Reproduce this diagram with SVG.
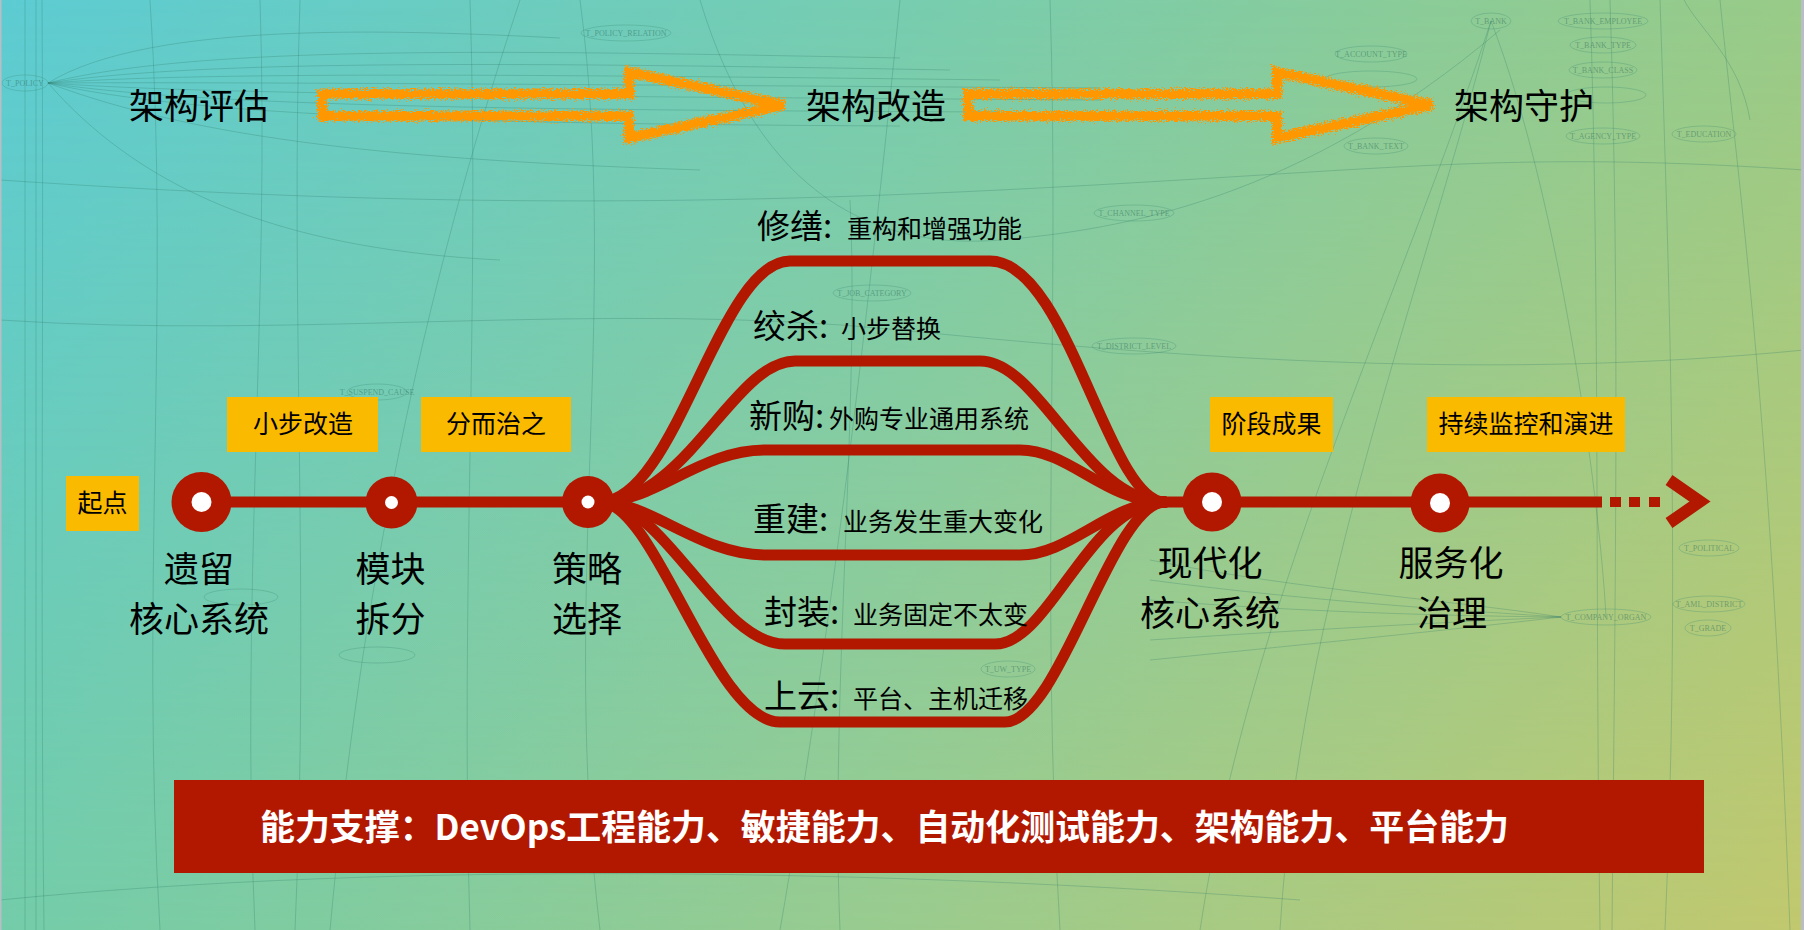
<svg xmlns="http://www.w3.org/2000/svg" width="1804" height="930" viewBox="0 0 1804 930">
<defs>
  <linearGradient id="gTop" x1="0" y1="0" x2="1804" y2="0" gradientUnits="userSpaceOnUse">
    <stop offset="0" stop-color="#5DCCD3"/>
    <stop offset="0.5" stop-color="#77CDB0"/>
    <stop offset="1" stop-color="#99CB88"/>
  </linearGradient>
  <linearGradient id="gBot" x1="0" y1="0" x2="1804" y2="0" gradientUnits="userSpaceOnUse">
    <stop offset="0" stop-color="#73CCA9"/>
    <stop offset="0.5" stop-color="#9ACB8E"/>
    <stop offset="1" stop-color="#C1C86E"/>
  </linearGradient>
  <linearGradient id="gMask" x1="0" y1="0" x2="0" y2="930" gradientUnits="userSpaceOnUse">
    <stop offset="0" stop-color="#000"/>
    <stop offset="1" stop-color="#fff"/>
  </linearGradient>
  <mask id="vmask" maskUnits="userSpaceOnUse" x="0" y="0" width="1804" height="930">
    <rect x="0" y="0" width="1804" height="930" fill="url(#gMask)"/>
  </mask>
  <filter id="rough" x="-5%" y="-40%" width="110%" height="180%">
    <feTurbulence type="fractalNoise" baseFrequency="0.7" numOctaves="2" seed="4" result="n"/>
    <feDisplacementMap in="SourceGraphic" in2="n" scale="11" xChannelSelector="R" yChannelSelector="G"/>
  </filter>
  <style>
    .bgl{fill:none;stroke:#2E7A68;stroke-opacity:0.28;stroke-width:1}
    .bgn{fill:none;stroke:#3C8A74;stroke-opacity:0.3;stroke-width:1}
    .bgt{font-family:"Liberation Serif",serif;font-size:8px;fill:#2E6E5C;fill-opacity:0.5;text-anchor:middle}
    .title{font-family:"Noto Sans CJK SC","Noto Sans",sans-serif;font-size:35px;fill:#000}
    .lbl{font-family:"Noto Sans CJK SC","Noto Sans",sans-serif;font-size:35px;fill:#000;text-anchor:middle}
    .tag{font-family:"Noto Sans CJK SC","Noto Sans",sans-serif;font-size:25px;fill:#000;text-anchor:middle}
    .big{font-family:"Noto Sans CJK SC","Noto Sans",sans-serif;font-size:33px;fill:#000}
    .small{font-size:25px}
    .box{fill:#FABA00}
    .red{fill:#B21800}
    .hole{fill:#fff}
    .path{fill:none;stroke:#B21800;stroke-width:11;stroke-linecap:round}
    .orange{fill:none;stroke:#FF9800;stroke-width:10;stroke-linejoin:miter}
  </style>
</defs>

<!-- background -->
<rect x="0" y="0" width="1804" height="930" fill="url(#gTop)"/>
<rect x="0" y="0" width="1804" height="930" fill="url(#gBot)" mask="url(#vmask)"/>

<g id="background-graph">
  <path class="bgl" d="M25,0 V930"/>
  <path class="bgl" d="M36,0 V930" stroke-width="2"/>
  <path class="bgl" d="M42,0 C44,300 40,600 44,930"/>
  <path class="bgl" d="M48,83 C150,20 400,30 560,38"/>
  <path class="bgl" d="M48,83 C200,45 500,50 900,58"/>
  <path class="bgl" d="M48,83 C200,60 500,62 950,70"/>
  <path class="bgl" d="M48,83 C200,72 500,74 1000,80"/>
  <path class="bgl" d="M48,83 C200,82 500,84 1100,88"/>
  <path class="bgl" d="M48,83 C200,94 500,96 1100,100"/>
  <path class="bgl" d="M48,83 C200,106 500,110 1000,112"/>
  <path class="bgl" d="M48,83 C200,118 500,124 900,126"/>
  <path class="bgl" d="M48,83 C200,140 400,160 700,170"/>
  <path class="bgl" d="M48,83 C150,200 300,250 500,260"/>
  <path class="bgl" d="M150,0 C170,300 140,600 160,930"/>
  <path class="bgl" d="M260,0 C270,300 240,600 255,930"/>
  <path class="bgl" d="M300,0 C290,300 310,600 295,930"/>
  <path class="bgl" d="M330,930 C360,600 420,300 520,0"/>
  <path class="bgl" d="M470,930 C460,600 480,300 470,0"/>
  <path class="bgl" d="M580,0 C620,300 560,600 600,930"/>
  <path class="bgl" d="M700,0 C760,200 880,250 1000,240 S1300,200 1500,30"/>
  <path class="bgl" d="M780,930 C820,700 860,400 900,0"/>
  <path class="bgl" d="M840,930 C830,700 860,400 850,200"/>
  <path class="bgl" d="M1050,0 C1060,300 1040,600 1060,930"/>
  <path class="bgl" d="M1200,930 C1250,600 1400,300 1491,21"/>
  <path class="bgl" d="M1280,930 C1300,600 1420,300 1491,21"/>
  <path class="bgl" d="M1491,21 C1560,200 1600,500 1606,617"/>
  <path class="bgl" d="M1590,0 C1600,300 1595,600 1600,930" stroke-width="2"/>
  <path class="bgl" d="M1610,0 C1620,300 1615,600 1612,930"/>
  <path class="bgl" d="M1660,0 C1670,300 1680,600 1665,930"/>
  <path class="bgl" d="M1720,0 C1740,200 1770,400 1790,930"/>
  <path class="bgl" d="M1684,0 C1700,30 1740,60 1750,120"/>
  <path class="bgl" d="M1150,560 C1300,590 1450,600 1561,617"/>
  <path class="bgl" d="M1150,580 C1300,600 1450,610 1561,617"/>
  <path class="bgl" d="M1150,600 C1300,612 1450,616 1561,617"/>
  <path class="bgl" d="M1150,640 C1300,630 1450,622 1561,617"/>
  <path class="bgl" d="M1150,660 C1300,645 1450,630 1561,617"/>
  <path class="bgl" d="M0,900 C400,860 900,870 1300,900"/>
  <path class="bgl" d="M0,180 C300,200 600,210 1000,190 S1500,150 1804,170"/>
  <path class="bgl" d="M0,320 C300,340 600,300 900,330 S1500,380 1804,350"/>

  <ellipse class="bgn" cx="25" cy="83" rx="23" ry="8"/><text class="bgt" x="25" y="86">T_POLICY</text>
  <ellipse class="bgn" cx="626" cy="33" rx="45" ry="8"/><text class="bgt" x="626" y="36">T_POLICY_RELATION</text>
  <ellipse class="bgn" cx="1491" cy="21" rx="20" ry="8"/><text class="bgt" x="1491" y="24">T_BANK</text>
  <ellipse class="bgn" cx="1603" cy="21" rx="45" ry="8"/><text class="bgt" x="1603" y="24">T_BANK_EMPLOYEE</text>
  <ellipse class="bgn" cx="1603" cy="45" rx="33" ry="8"/><text class="bgt" x="1603" y="48">T_BANK_TYPE</text>
  <ellipse class="bgn" cx="1603" cy="70" rx="34" ry="8"/><text class="bgt" x="1603" y="73">T_BANK_CLASS</text>
  <ellipse class="bgn" cx="1606" cy="95" rx="40" ry="8"/>
  <ellipse class="bgn" cx="1603" cy="136" rx="37" ry="8"/><text class="bgt" x="1603" y="139">T_AGENCY_TYPE</text>
  <ellipse class="bgn" cx="1704" cy="134" rx="32" ry="8"/><text class="bgt" x="1704" y="137">T_EDUCATION</text>
  <ellipse class="bgn" cx="1371" cy="54" rx="36" ry="8"/><text class="bgt" x="1371" y="57">T_ACCOUNT_TYPE</text>
  <ellipse class="bgn" cx="1371" cy="79" rx="46" ry="8"/>
  <ellipse class="bgn" cx="1376" cy="146" rx="32" ry="8"/><text class="bgt" x="1376" y="149">T_BANK_TEXT</text>
  <ellipse class="bgn" cx="1709" cy="548" rx="30" ry="8"/><text class="bgt" x="1709" y="551">T_POLITICAL</text>
  <ellipse class="bgn" cx="1709" cy="604" rx="36" ry="8"/><text class="bgt" x="1709" y="607">T_AML_DISTRICT</text>
  <ellipse class="bgn" cx="1708" cy="628" rx="23" ry="8"/><text class="bgt" x="1708" y="631">T_GRADE</text>
  <ellipse class="bgn" cx="1606" cy="617" rx="45" ry="8"/><text class="bgt" x="1606" y="620">T_COMPANY_ORGAN</text>
  <ellipse class="bgn" cx="1134" cy="213" rx="40" ry="8"/><text class="bgt" x="1134" y="216">T_CHANNEL_TYPE</text>
  <ellipse class="bgn" cx="872" cy="293" rx="39" ry="8"/><text class="bgt" x="872" y="296">T_JOB_CATEGORY</text>
  <ellipse class="bgn" cx="1134" cy="346" rx="42" ry="8"/><text class="bgt" x="1134" y="349">T_DISTRICT_LEVEL</text>
  <ellipse class="bgn" cx="377" cy="392" rx="30" ry="8"/><text class="bgt" x="377" y="395">T_SUSPEND_CAUSE</text>
  <ellipse class="bgn" cx="377" cy="655" rx="38" ry="8"/>
  <ellipse class="bgn" cx="241" cy="597" rx="37" ry="8"/>
  <ellipse class="bgn" cx="1008" cy="669" rx="27" ry="8"/><text class="bgt" x="1008" y="672">T_UW_TYPE</text>
</g>
<rect x="0" y="0" width="1.5" height="930" fill="#B9BDC5"/>
<rect x="1801" y="0" width="3" height="930" fill="#B9BDC5"/>

<!-- phase titles -->
<g id="phase-assess"><text class="title" x="129" y="119">架构评估</text></g>
<g id="phase-transform"><text class="title" x="806" y="119">架构改造</text></g>
<g id="phase-guard"><text class="title" x="1454" y="119">架构守护</text></g>

<g id="phase-arrows" filter="url(#rough)">
  <path class="orange" d="M322,94 L629,94 L629,72 L784,105 L629,138 L629,116 L322,116 Z"/>
  <path class="orange" d="M968,94 L1277,94 L1277,72 L1432,105 L1277,138 L1277,116 L968,116 Z"/>
</g>

<!-- connectors -->
<g id="connectors">
  <line x1="201" y1="502" x2="625" y2="502" stroke="#B21800" stroke-width="11"/>
  <line x1="1135" y1="502" x2="1602" y2="502" stroke="#B21800" stroke-width="11"/>
  <rect class="red" x="1610" y="497" width="11" height="10"/>
  <rect class="red" x="1629" y="497" width="11" height="10"/>
  <rect class="red" x="1649" y="497" width="11" height="10"/>
  <polyline points="1669,480 1700,501.5 1669,523" fill="none" stroke="#B21800" stroke-width="12" stroke-linejoin="miter"/>
  <path class="path" d="M600,502 C676,502 719,261 790,261 L990,261 C1068,261 1108,502 1165,502"/>
  <path class="path" d="M600,502 C686,502 734,361 795,361 L980,361 C1040,361 1086,502 1165,502"/>
  <path class="path" d="M600,502 C656,502 700,450 765,450 L1020,450 C1070,450 1105,502 1165,502"/>
  <path class="path" d="M600,502 C651,502 700,555 765,555 L1020,555 C1070,555 1110,502 1165,502"/>
  <path class="path" d="M600,502 C666,502 718,644 785,644 L995,644 C1050,644 1089,502 1165,502"/>
  <path class="path" d="M600,502 C656,502 713,722 780,722 L1005,722 C1060,722 1112,502 1165,502"/>
</g>

<!-- nodes -->
<g id="node-start">
  <rect class="box" x="66" y="476" width="73" height="55"/>
  <text class="tag" x="102.5" y="512">起点</text>
</g>
<g id="node-legacy">
  <circle class="red" cx="201.5" cy="502" r="30"/>
  <circle class="hole" cx="201.5" cy="502" r="10"/>
  <text class="lbl" x="199" y="582">遗留</text>
  <text class="lbl" x="199" y="632">核心系统</text>
</g>
<g id="tag-small-steps">
  <rect class="box" x="227" y="397" width="151" height="55"/>
  <text class="tag" x="303" y="433">小步改造</text>
</g>
<g id="node-split">
  <circle class="red" cx="391.5" cy="502.5" r="26"/>
  <circle class="hole" cx="391.5" cy="502.5" r="6.5"/>
  <text class="lbl" x="390.5" y="582">模块</text>
  <text class="lbl" x="390.5" y="632">拆分</text>
</g>
<g id="tag-divide">
  <rect class="box" x="421" y="397" width="150" height="55"/>
  <text class="tag" x="496" y="433">分而治之</text>
</g>
<g id="node-strategy">
  <circle class="red" cx="588" cy="502" r="26"/>
  <circle class="hole" cx="588" cy="502" r="6.5"/>
  <text class="lbl" x="587" y="582">策略</text>
  <text class="lbl" x="587" y="632">选择</text>
</g>

<g id="opt-repair"><text class="big" x="757" y="238">修缮:<tspan class="small" x="847">重构和增强功能</tspan></text></g>
<g id="opt-strangle"><text class="big" x="753" y="338">绞杀:<tspan class="small" x="841">小步替换</tspan></text></g>
<g id="opt-buy"><text class="big" x="749" y="428">新购:<tspan class="small" x="829">外购专业通用系统</tspan></text></g>
<g id="opt-rebuild"><text class="big" x="753" y="531">重建:<tspan class="small" x="843">业务发生重大变化</tspan></text></g>
<g id="opt-wrap"><text class="big" x="764" y="624">封装:<tspan class="small" x="853">业务固定不太变</tspan></text></g>
<g id="opt-cloud"><text class="big" x="764" y="708">上云:<tspan class="small" x="853">平台、主机迁移</tspan></text></g>

<g id="node-modern">
  <circle class="red" cx="1212" cy="502" r="29.5"/>
  <circle class="hole" cx="1212" cy="502" r="10"/>
  <text class="lbl" x="1210" y="576">现代化</text>
  <text class="lbl" x="1210" y="626">核心系统</text>
</g>
<g id="tag-result">
  <rect class="box" x="1210" y="397" width="123" height="55"/>
  <text class="tag" x="1271.5" y="433">阶段成果</text>
</g>
<g id="node-service">
  <circle class="red" cx="1440" cy="503" r="29.5"/>
  <circle class="hole" cx="1440" cy="503" r="10"/>
  <text class="lbl" x="1451" y="576">服务化</text>
  <text class="lbl" x="1452" y="626">治理</text>
</g>
<g id="tag-monitor">
  <rect class="box" x="1427" y="397" width="198" height="55"/>
  <text class="tag" x="1526" y="433">持续监控和演进</text>
</g>

<g id="capability-bar">
  <rect x="174" y="780" width="1530" height="93" fill="#B21800"/>
  <text x="260" y="840" font-family="'Noto Sans CJK SC','Noto Sans',sans-serif" font-size="35" font-weight="bold" fill="#fff" textLength="1249" lengthAdjust="spacingAndGlyphs">能力支撑：DevOps工程能力、敏捷能力、自动化测试能力、架构能力、平台能力</text>
</g>
</svg>
